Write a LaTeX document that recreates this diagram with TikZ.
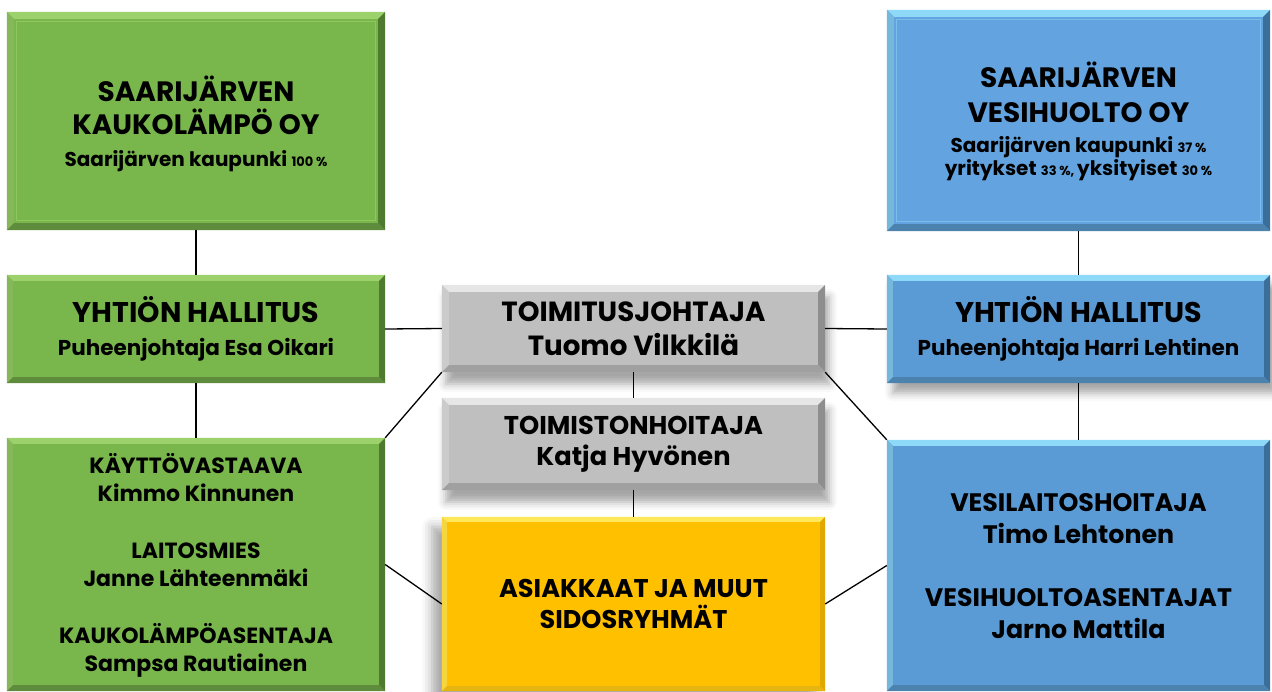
\documentclass[tikz,border=0pt]{standalone}
\usepackage{fontspec}
\setmainfont{Poppins}
\usetikzlibrary{shadows.blur}
\definecolor{gfill}{HTML}{79B74C}
\definecolor{glight}{HTML}{9DD16C}
\definecolor{gdark}{HTML}{4F7B30}
\definecolor{btfill}{HTML}{63A4E0}
\definecolor{bfill}{HTML}{5B9BD5}
\definecolor{blight}{HTML}{8ED8F8}
\definecolor{bdark}{HTML}{3C6E9C}
\definecolor{gyfill}{HTML}{BFBFBF}
\definecolor{gylight}{HTML}{E6E6E6}
\definecolor{gydark}{HTML}{8E8E8E}
\definecolor{yfill}{HTML}{FFC000}
\definecolor{ylight}{HTML}{FFE85A}
\definecolor{ydark}{HTML}{E0A800}
\newcommand\fsz[2]{\fontsize{#1}{#2}\selectfont\bfseries}
\newcommand\fpct{\fontsize{13}{20}\selectfont\bfseries}
\newcommand\bevelit[4]{%
  \fill[#3] (#1.north west) -- (#1.north east) -- ([shift={(-#2,#2)}]#1.north east) -- ([shift={(#2,#2)}]#1.north west) -- cycle;
  \fill[#3!70!#4] (#1.north west) -- ([shift={(#2,#2)}]#1.north west) -- ([shift={(#2,-#2)}]#1.south west) -- (#1.south west) -- cycle;
  \fill[#4] (#1.north east) -- (#1.south east) -- ([shift={(-#2,-#2)}]#1.south east) -- ([shift={(-#2,#2)}]#1.north east) -- cycle;
  \fill[#4!80!#3] (#1.south west) -- (#1.south east) -- ([shift={(-#2,-#2)}]#1.south east) -- ([shift={(#2,-#2)}]#1.south west) -- cycle;
}
\begin{document}
\begin{tikzpicture}[x=1pt,y=-1pt,
  box/.style={draw=none,inner sep=0pt,align=center,text=black},
  conn/.style={draw=black,line width=1.3pt}]
\useasboundingbox (0,0) rectangle (1272,691);
% boxes
\node[box,fill=gfill,minimum width=378pt,minimum height=218pt] (g1) at (196,121) {};
\node[box,fill=btfill,minimum width=383pt,minimum height=221pt] (b1) at (1078.5,120.5) {};
\node[box,fill=gfill,minimum width=378pt,minimum height=108pt] (g2) at (196,329) {};
\node[box,fill=bfill,minimum width=383pt,minimum height=108pt,blur shadow={shadow xshift=6pt,shadow yshift=-10pt,shadow blur radius=8pt,shadow opacity=35}] (b2) at (1078.5,329) {};
\node[box,fill=gyfill,minimum width=383pt,minimum height=87pt,blur shadow={shadow xshift=4pt,shadow yshift=-12pt,shadow blur radius=8pt,shadow opacity=35}] (tj) at (633.5,328.5) {};
\node[box,fill=gyfill,minimum width=383pt,minimum height=92pt,blur shadow={shadow xshift=4pt,shadow yshift=-12pt,shadow blur radius=8pt,shadow opacity=35}] (ts) at (633.5,444) {};
\node[box,fill=yfill,minimum width=383pt,minimum height=174pt,blur shadow={shadow xshift=-10pt,shadow yshift=-10pt,shadow blur radius=10pt,shadow opacity=35}] (yl) at (633.5,604) {};
\node[box,fill=gfill,minimum width=378pt,minimum height=253pt] (g3) at (196,564.5) {};
\node[box,fill=bfill,minimum width=383pt,minimum height=251pt] (b3) at (1078.5,565.5) {};
% bevels
\bevelit{g1}{7}{glight}{gdark}
\draw[glight!60!gfill,line width=1pt] ([shift={(10,10)}]g1.north west) rectangle ([shift={(-10,-10)}]g1.south east);
\bevelit{b1}{7}{blight}{bdark}
\draw[blight!50!btfill,line width=1pt] ([shift={(10,10)}]b1.north west) rectangle ([shift={(-10,-10)}]b1.south east);
\bevelit{g2}{6}{glight}{gdark}
\bevelit{b2}{6}{blight}{bdark}
\bevelit{tj}{7}{gylight}{gydark}
\bevelit{ts}{7}{gylight}{gydark}
\bevelit{yl}{5}{ylight}{ydark}
\bevelit{g3}{6}{glight}{gdark}
\bevelit{b3}{6}{blight}{bdark}
% connectors
\draw[conn] (g1.south) -- (g2.north);
\draw[conn] (g2.south) -- (g3.north);
\draw[conn] (b1.south) -- (b2.north);
\draw[conn] (b2.south) -- (b3.north);
\draw[conn] (g2.east) -- (tj.west);
\draw[conn] (tj.east) -- (b2.west);
\draw[conn] (tj.south west) -- (g3.north east);
\draw[conn] (tj.south east) -- (b3.north west);
\draw[conn] (tj.south) -- (ts.north);
\draw[conn] (ts.south) -- (yl.north);
\draw[conn] (g3.east) -- (yl.west);
\draw[conn] (yl.east) -- (b3.west);
% texts
\node[box,font=\fsz{28}{33}] (g1t) at ([yshift=-3pt]g1.center) {SAARIJÄRVEN\\KAUKOLÄMPÖ OY\\[-1pt]\fsz{20}{33}Saarijärven kaupunki \fpct 100 \%};
\node[box,font=\fsz{28}{33}] (b1t) at ([yshift=-1pt]b1.center) {SAARIJÄRVEN\\[2pt]VESIHUOLTO OY\\[-3pt]\fsz{20}{33}Saarijärven kaupunki \fpct 37 \%\\[-10pt]\fsz{20}{33}yritykset \fpct 33 \%, \fsz{20}{33}yksityiset \fpct 30 \%};
\node[box,font=\fsz{28.5}{33}] (g2t) at (g2.center) {YHTIÖN HALLITUS\\\fsz{21.5}{33}Puheenjohtaja Esa Oikari};
\node[box,font=\fsz{28.5}{33}] (b2t) at (b2.center) {YHTIÖN HALLITUS\\\fsz{21.5}{33}Puheenjohtaja Harri Lehtinen};
\node[box,font=\fsz{27.7}{34}] (tjt) at (tj.center) {TOIMITUSJOHTAJA\\Tuomo Vilkkilä};
\node[box,font=\fsz{25.7}{31}] (tst) at (ts.center) {TOIMISTONHOITAJA\\Katja Hyvönen};
\node[box,font=\fsz{25.6}{31}] (ylt) at (yl.center) {ASIAKKAAT JA MUUT\\SIDOSRYHMÄT};
\node[box,font=\fsz{22}{28.3}] (g3t) at ([yshift=-1pt]g3.center) {KÄYTTÖVASTAAVA\\Kimmo Kinnunen\\[28.3pt]LAITOSMIES\\Janne Lähteenmäki\\[28.3pt]KAUKOLÄMPÖASENTAJA\\Sampsa Rautiainen};
\node[box,font=\fsz{25.3}{32}] (b3t) at ([yshift=-1pt]b3.center) {VESILAITOSHOITAJA\\Timo Lehtonen\\[31pt]VESIHUOLTOASENTAJAT\\Jarno Mattila};
\end{tikzpicture}
\end{document}
